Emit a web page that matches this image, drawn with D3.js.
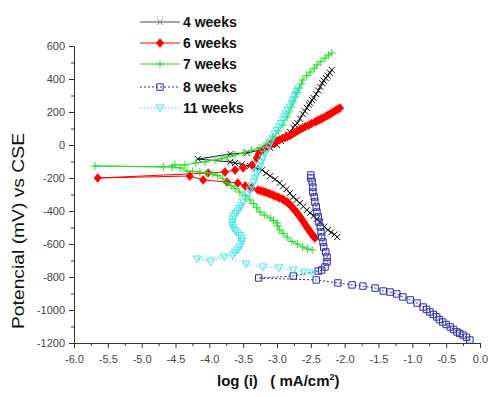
<!DOCTYPE html>
<html>
<head>
<meta charset="utf-8">
<script src="https://cdn.jsdelivr.net/npm/d3@7"></script>
<style>
  body { margin: 0; background: #fff; }
  svg { display: block; font-family: Arial, "Liberation Sans", sans-serif; }
</style>
</head>
<body>
<svg id="chart" width="488" height="397"></svg>
<script>
// log(i) [mA/cm2], potential [mV vs CSE]
const weeks4 = [
  [-2.11,-558],[-2.15,-542],[-2.20,-530],[-2.25,-515],[-2.30,-495],[-2.36,-467],[-2.41,-448],[-2.46,-430],
  [-2.51,-412],[-2.56,-394],[-2.61,-372],[-2.66,-352],[-2.71,-333],[-2.76,-315],[-2.81,-292],[-2.86,-268],
  [-2.91,-250],[-2.96,-230],[-3.03,-208],[-3.10,-188],[-3.16,-170],[-3.22,-152],[-3.31,-138],[-3.40,-127],
  [-3.52,-117],[-3.62,-109],[-3.69,-103],[-4.17,-85],[-3.69,-55],[-3.44,-48],[-3.25,-30],[-3.10,-18],
  [-3.00,0],[-2.94,24],[-2.88,48],[-2.84,65],[-2.81,79],[-2.76,105],[-2.73,120],[-2.70,133],[-2.66,160],
  [-2.62,188],[-2.59,205],[-2.56,225],[-2.53,242],[-2.51,255],[-2.48,272],[-2.46,285],[-2.42,309],
  [-2.39,330],[-2.36,352],[-2.33,375],[-2.31,390],[-2.28,406],[-2.25,420],[-2.22,438],[-2.19,455]
];
const weeks6 = [
  [-2.44,-564],[-2.46,-554],[-2.48,-543],[-2.50,-532],[-2.52,-520],[-2.54,-508],[-2.56,-497],[-2.58,-484],
  [-2.60,-470],[-2.63,-455],[-2.65,-440],[-2.68,-426],[-2.70,-412],[-2.73,-400],[-2.75,-388],[-2.78,-376],
  [-2.80,-365],[-2.83,-355],[-2.85,-345],[-2.89,-336],[-2.92,-328],[-2.96,-321],[-2.99,-315],[-3.03,-309],
  [-3.06,-303],[-3.10,-297],[-3.13,-292],[-3.17,-287],[-3.20,-282],[-3.24,-278],[-3.28,-273],[-3.38,-260],
  [-3.47,-248],[-3.58,-230],[-3.74,-224],[-4.09,-212],[-4.29,-188],[-5.65,-200],[-4.02,-170],[-3.77,-164],
  [-3.62,-152],[-3.50,-139],[-3.37,-121],[-3.30,-79],[-3.27,-55],[-3.25,-42],[-3.20,-25],[-3.15,-12],
  [-3.11,-3],[-3.08,6],[-3.04,15],[-3.00,24],[-2.96,32],[-2.92,40],[-2.88,45],[-2.85,50],[-2.81,58],
  [-2.78,65],[-2.74,75],[-2.70,85],[-2.66,94],[-2.62,103],[-2.58,112],[-2.53,120],[-2.49,130],[-2.44,139],
  [-2.41,146],[-2.38,152],[-2.35,158],[-2.32,164],[-2.28,172],[-2.25,180],[-2.22,187],[-2.19,194],
  [-2.16,202],[-2.13,210],[-2.10,217],[-2.07,224]
];
const weeks7 = [
  [-2.48,-636],[-2.55,-630],[-2.62,-618],[-2.70,-600],[-2.78,-585],[-2.85,-558],[-2.91,-535],[-2.96,-515],
  [-2.99,-490],[-3.00,-473],[-3.05,-458],[-3.10,-442],[-3.18,-425],[-3.25,-406],[-3.30,-380],[-3.35,-355],
  [-3.40,-333],[-3.47,-308],[-3.55,-285],[-3.62,-262],[-3.68,-245],[-3.74,-230],[-3.80,-205],[-3.88,-185],
  [-3.95,-175],[-4.03,-170],[-4.14,-164],[-4.25,-160],[-4.33,-158],[-4.43,-139],[-4.55,-133],[-5.69,-127],
  [-4.68,-133],[-4.51,-121],[-4.36,-121],[-4.20,-109],[-4.06,-103],[-3.92,-91],[-3.82,-82],[-3.74,-73],
  [-3.62,-60],[-3.50,-48],[-3.38,-32],[-3.25,-18],[-3.15,12],[-3.06,48],[-2.98,85],[-2.91,121],[-2.85,170],
  [-2.82,200],[-2.79,230],[-2.76,260],[-2.73,291],[-2.70,318],[-2.67,345],[-2.64,370],[-2.62,394],
  [-2.56,420],[-2.51,442],[-2.45,465],[-2.41,485],[-2.35,505],[-2.29,527],[-2.24,545],[-2.19,558]
];
const weeks8 = [
  [-0.15,-1182],[-0.20,-1165],[-0.25,-1152],[-0.30,-1142],[-0.34,-1133],[-0.39,-1118],[-0.44,-1103],
  [-0.50,-1088],[-0.55,-1073],[-0.60,-1058],[-0.64,-1042],[-0.69,-1027],[-0.74,-1012],[-0.79,-997],
  [-0.84,-982],[-0.93,-958],[-1.03,-939],[-1.14,-921],[-1.23,-903],[-1.33,-891],[-1.43,-885],[-1.55,-867],
  [-1.73,-855],[-1.89,-848],[-2.10,-836],[-2.42,-818],[-3.27,-806],[-2.76,-794],[-2.39,-764],[-2.34,-758],
  [-2.29,-739],[-2.26,-709],[-2.26,-679],[-2.28,-648],[-2.31,-618],[-2.32,-588],[-2.34,-558],[-2.35,-527],
  [-2.36,-497],[-2.38,-467],[-2.39,-436],[-2.41,-406],[-2.42,-376],[-2.44,-345],[-2.45,-315],[-2.47,-285],
  [-2.47,-255],[-2.48,-224],[-2.50,-200],[-2.50,-182]
];
const weeks11 = [
  [-2.47,-776],[-2.60,-770],[-2.76,-758],[-2.97,-745],[-3.21,-739],[-3.46,-721],[-3.78,-679],[-3.98,-709],
  [-4.18,-691],[-3.65,-667],[-3.62,-652],[-3.58,-636],[-3.55,-618],[-3.53,-600],[-3.52,-582],[-3.52,-564],
  [-3.55,-548],[-3.59,-533],[-3.62,-518],[-3.65,-503],[-3.66,-485],[-3.66,-467],[-3.65,-448],[-3.64,-430],
  [-3.61,-415],[-3.58,-400],[-3.55,-385],[-3.53,-370],[-3.50,-345],[-3.47,-321],[-3.43,-297],[-3.40,-273],
  [-3.37,-248],[-3.34,-224],[-3.32,-200],[-3.30,-176],[-3.27,-152],[-3.25,-127],[-3.23,-103],[-3.21,-79],
  [-3.18,-55],[-3.15,-30],[-3.12,-6],[-3.09,18],[-3.06,42],[-3.03,67],[-3.00,88],[-2.97,109],[-2.94,130],
  [-2.91,152],[-2.89,170],[-2.87,188],[-2.84,210],[-2.81,230],[-2.78,252],[-2.76,273],[-2.74,291],
  [-2.72,309],[-2.70,325],[-2.69,339]
];

const seriesNames = ["4 weeks", "6 weeks", "7 weeks", "8 weeks", "11 weeks"];
const seriesData = [weeks4, weeks6, weeks7, weeks8, weeks11];
const xTickValues = [-6.0, -5.5, -5.0, -4.5, -4.0, -3.5, -3.0, -2.5, -2.0, -1.5, -1.0, -0.5, 0.0];
const yTickValues = [-1200, -1000, -800, -600, -400, -200, 0, 200, 400, 600];

// look of each series
const styles = {
  "4 weeks":  { color: "#111", legendColor: "#888", marker: "x", dash: null, width: 1 },
  "6 weeks":  { color: "#ff0000", marker: "diamond", dash: null, width: 1 },
  "7 weeks":  { color: "#22dd22", marker: "plus", dash: null, width: 1 },
  "8 weeks":  { color: "#2a2aa8", marker: "square", dash: "2,2", width: 1 },
  "11 weeks": { color: "#3fe6e6", marker: "triangle", dash: "1.5,2", width: 1 }
};

const svg = d3.select("#chart");
const x = d3.scaleLinear().domain([-6, 0]).range([74, 480]);
const y = d3.scaleLinear().domain([-1200, 600]).range([343, 46]);

// axes
const axisColor = "#333";
const gx = svg.append("g").attr("transform", "translate(0,343)")
  .call(d3.axisBottom(x).tickValues(xTickValues).tickSize(5).tickSizeOuter(0)
    .tickPadding(7).tickFormat(d => d.toFixed(1)));
svg.append("g").attr("transform", "translate(0,343)")
  .call(d3.axisBottom(x).tickValues(d3.range(-5.75, 0, 0.5)).tickSize(3).tickFormat(""))
  .call(g => g.select(".domain").remove());

const gy = svg.append("g").attr("transform", "translate(74,0)")
  .call(d3.axisLeft(y).tickValues(yTickValues).tickSize(5).tickSizeOuter(0)
    .tickPadding(4).tickFormat(d => String(d)));
svg.append("g").attr("transform", "translate(74,0)")
  .call(d3.axisLeft(y).tickValues(d3.range(-1100, 600, 200)).tickSize(3).tickFormat(""))
  .call(g => g.select(".domain").remove());

svg.selectAll(".tick line, .domain").attr("stroke", axisColor);
gx.selectAll(".tick text").attr("font-size", 11).attr("fill", "#444")
  .attr("font-family", "Arial, 'Liberation Sans', sans-serif");
gy.selectAll(".tick text").attr("font-size", 11).attr("fill", "#444")
  .attr("font-family", "Arial, 'Liberation Sans', sans-serif");

// axis titles
svg.append("text")
  .attr("x", 217).attr("y", 386)
  .attr("font-size", 15).attr("font-weight", "bold").attr("fill", "#111")
  .style("white-space", "pre")
  .text("log (i)   ( mA/cm")
  .append("tspan").attr("dy", -6).attr("font-size", 9).text("2")
  .select(function () { return this.parentNode; })
  .append("tspan").attr("dy", 6).text(")");

svg.append("text")
  .attr("transform", "translate(24,231) rotate(-90)")
  .attr("text-anchor", "middle")
  .attr("font-size", 17).attr("fill", "#111")
  .attr("textLength", 196).attr("lengthAdjust", "spacingAndGlyphs")
  .text("Potencial (mV) vs CSE");

// markers
function markerPath(type) {
  switch (type) {
    case "x": return "M-3,-3L3,3M-3,3L3,-3";
    case "plus": return "M-4,0H4M0,-4V4";
    case "diamond": return "M0,-4.5L3.8,0L0,4.5L-3.8,0Z";
    case "square": return "M-3.2,-3.2H3.2V3.2H-3.2Z";
    case "triangle": return "M-3.8,-3L3.8,-3L0,3.6Z";
  }
}
function drawMarker(sel, st) {
  const filled = st.marker === "diamond";
  sel.append("path")
    .attr("d", markerPath(st.marker))
    .attr("fill", filled ? st.color : "none")
    .attr("stroke", st.color)
    .attr("stroke-width", filled ? 0.5 : 1);
}

const line = d3.line().x(d => x(d[0])).y(d => y(d[1]));

const plot = svg.append("g");
seriesNames.forEach((name, i) => {
  const st = styles[name];
  const data = seriesData[i];
  const g = plot.append("g");
  g.append("path")
    .datum(data)
    .attr("d", line)
    .attr("fill", "none")
    .attr("stroke", st.color)
    .attr("stroke-width", st.width)
    .attr("stroke-dasharray", st.dash);
  g.selectAll("g.pt").data(data).join("g")
    .attr("class", "pt")
    .attr("transform", d => `translate(${x(d[0])},${y(d[1])})`)
    .each(function () { drawMarker(d3.select(this), st); });
});

// legend
const legend = svg.append("g");
seriesNames.forEach((name, i) => {
  const st = styles[name];
  const rowY = [22, 43, 64, 87, 108][i];
  const g = legend.append("g").attr("transform", `translate(0,${rowY})`);
  g.append("line").attr("x1", 140).attr("x2", 180).attr("y1", 0).attr("y2", 0)
    .attr("stroke", st.legendColor || st.color).attr("stroke-width", i === 0 ? 1.5 : 1)
    .attr("stroke-dasharray", st.dash);
  const m = g.append("g").attr("transform", "translate(160,0)");
  drawMarker(m, { ...st, color: st.legendColor || st.color });
  g.append("text").attr("x", 183).attr("y", 5)
    .attr("font-size", 14).attr("font-weight", "bold").attr("fill", "#111")
    .text(name);
});
</script>
</body>
</html>
